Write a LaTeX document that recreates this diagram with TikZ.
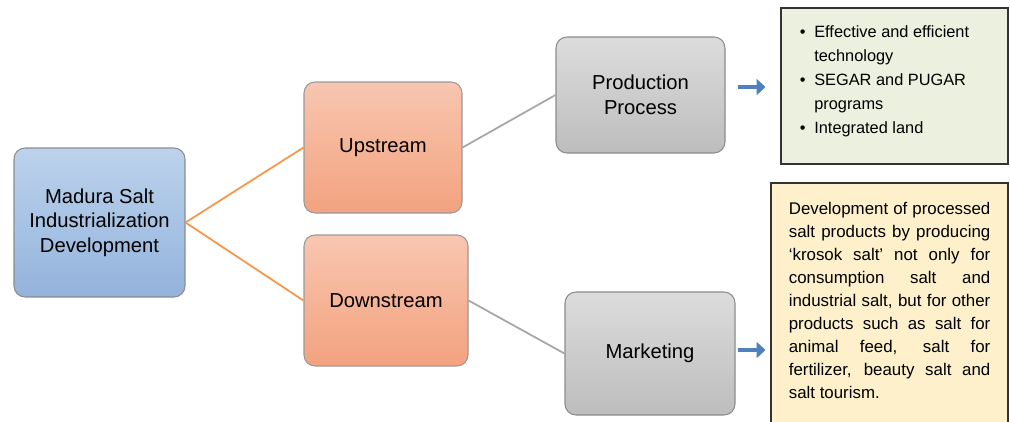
\documentclass[tikz,border=0pt]{standalone}
\usepackage{fontspec}
\setmainfont{Liberation Sans}
\usepackage{tikz}
\usetikzlibrary{arrows.meta,positioning}

\definecolor{blueTop}{HTML}{BCD2EC}
\definecolor{blueBot}{HTML}{93B3DC}
\definecolor{orangeTop}{HTML}{F8C6B0}
\definecolor{orangeBot}{HTML}{F3A27F}
\definecolor{grayTop}{HTML}{DCDCDC}
\definecolor{grayBot}{HTML}{BDBDBD}
\definecolor{noteGreen}{HTML}{EBF1DE}
\definecolor{noteYellow}{HTML}{FDF0CB}
\definecolor{linkOrange}{HTML}{F79646}
\definecolor{linkGray}{HTML}{A6A6A6}
\definecolor{arrowBlue}{HTML}{4F81BD}

\begin{document}
\begin{tikzpicture}[
    box/.style={draw, rounded corners=0.22cm, align=center,
                line width=0.6pt, inner sep=2pt,
                font=\fontsize{11.5}{14}\selectfont},
    mainbox/.style={box, draw=black!45, top color=blueTop,
                    bottom color=blueBot},
    streambox/.style={box, draw=black!40, top color=orangeTop,
                      bottom color=orangeBot},
    stagebox/.style={box, draw=black!45, top color=grayTop,
                     bottom color=grayBot},
    note/.style={draw=black!80, line width=0.6pt},
    notetext/.style={inner sep=0pt, anchor=north west},
    link/.style={line width=1pt},
    arrow/.style={-{Triangle[length=5pt, width=9pt]},
                  line width=2.6pt, arrowBlue},
  ]

  \useasboundingbox (0,0) rectangle (20.2,-8.42);

  % ── Root ──
  \node[mainbox, minimum width=3.42cm, minimum height=2.98cm]
    at (1.99, -4.45) (madura)
    {Madura Salt\\Industrialization\\Development};

  % ── Upstream / Downstream ──
  \node[streambox, minimum width=3.16cm, minimum height=2.62cm]
    at (7.66, -2.95) (up) {Upstream};
  \node[streambox, minimum width=3.28cm, minimum height=2.62cm]
    at (7.72, -6.01) (down) {Downstream};

  % ── Stages ──
  \node[stagebox, minimum width=3.38cm, minimum height=2.32cm]
    at (12.81, -1.90) (prod) {Production\\Process};
  \node[stagebox, minimum width=3.40cm, minimum height=2.46cm]
    at (13.00, -7.07) (mkt) {Marketing};

  % ── Notes (right column) ──
  \node[note, fill=noteGreen, minimum width=4.54cm, minimum height=3.12cm]
    at (17.89, -1.72) (prodnote) {};
  \node[notetext, font=\fontsize{9.3}{13.6}\selectfont]
    at ([xshift=0.38cm, yshift=-0.26cm]prodnote.north west) (prodlist)
    {\begin{tabular}{@{}l@{\hspace{5pt}}l@{}}
      \textbullet & Effective and efficient\\
                  & technology\\
      \textbullet & SEGAR and PUGAR\\
                  & programs\\
      \textbullet & Integrated land
    \end{tabular}};

  \node[note, fill=noteYellow, minimum width=4.74cm, minimum height=4.9cm]
    at (17.79, -6.11) (mktnote) {};
  \node[notetext, text width=4.03cm, align=justify,
        font=\fontsize{9.6}{13.1}\selectfont]
    at ([xshift=0.36cm, yshift=-0.38cm]mktnote.north west) (mkttext)
    {\hyphenpenalty=10000
     Development of processed\linebreak
     salt products by producing\linebreak
     ‘krosok salt’ not only for\linebreak
     consumption salt and\linebreak
     industrial salt, but for other\linebreak
     products such as salt for\linebreak
     animal feed, salt for\linebreak
     fertilizer, beauty salt and\linebreak
     salt tourism.};

  % ── Links ──
  \draw[link, linkOrange] (madura.east) -- (up.west);
  \draw[link, linkOrange] (madura.east) -- (down.west);
  \draw[link, linkGray] (up.east) -- (prod.west);
  \draw[link, linkGray] (down.east) -- (mkt.west);

  % ── Arrows into the notes ──
  \draw[arrow, shorten <=0.24cm, shorten >=0.3cm]
    ([yshift=0.16cm]prod.east) -- ([yshift=0.16cm]prod.east -| prodnote.west);
  \draw[arrow, shorten <=0.04cm, shorten >=0.1cm]
    ([yshift=0.07cm]mkt.east) -- ([yshift=0.07cm]mkt.east -| mktnote.west);

\end{tikzpicture}
\end{document}
